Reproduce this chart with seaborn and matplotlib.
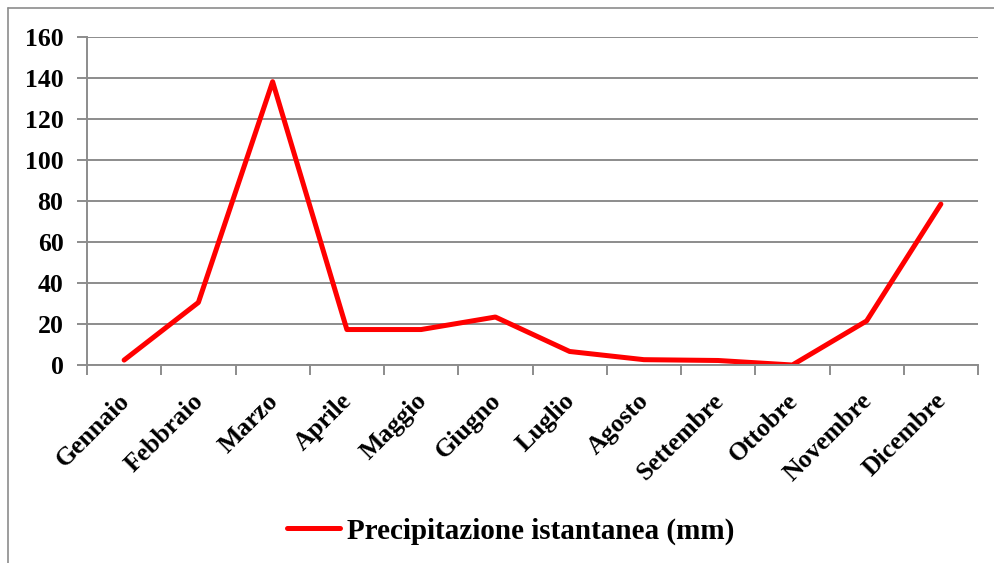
import matplotlib
matplotlib.use("Agg")
import matplotlib.pyplot as plt
from matplotlib.lines import Line2D
import seaborn as sns
import pandas as pd

months = ["Gennaio", "Febbraio", "Marzo", "Aprile", "Maggio", "Giugno",
          "Luglio", "Agosto", "Settembre", "Ottobre", "Novembre", "Dicembre"]
rain = [2.4, 30.5, 138.2, 17.3, 17.3, 23.4, 6.6, 2.6, 2.2, 0.0, 21.5, 78.5]
series_name = "Precipitazione istantanea (mm)"

df = pd.DataFrame({"mese": months, "mm": rain})

sns.set_style("white")
plt.rcParams["font.family"] = ["Liberation Serif", "DejaVu Serif"]
plt.rcParams["font.weight"] = "bold"
plt.rcParams["text.color"] = "black"
plt.rcParams["xtick.labelcolor"] = "black"
plt.rcParams["ytick.labelcolor"] = "black"

fig = plt.figure(figsize=(9.94, 5.63), dpi=100)
ax = fig.add_axes([87 / 994, 1 - 365 / 563, (978 - 87) / 994, (365 - 37) / 563])

sns.lineplot(data=df, x="mese", y="mm", ax=ax, color="#ff0000", linewidth=3.6,
             label=series_name, sort=False)

grid_c = "#8c8c8c"
ax.set_ylim(0, 160)
ax.set_yticks(range(0, 161, 20))
ax.set_xlim(-0.5, 11.5)
ax.grid(axis="y", color=grid_c, linewidth=1.4)
ax.set_axisbelow(True)
for s in ["top", "right"]:
    ax.spines[s].set_visible(False)
for s in ["left", "bottom"]:
    ax.spines[s].set_color(grid_c)
    ax.spines[s].set_linewidth(1.4)

ax.set_xticks(range(12))
ax.set_xticklabels(months, rotation=45, ha="right", va="center_baseline", rotation_mode="anchor",
                   fontsize=18.5, fontweight="bold", color="black")
ax.set_xticks([i - 0.5 for i in range(13)], minor=True)
ax.tick_params(axis="x", which="major", length=0, pad=22)
ax.tick_params(axis="x", which="minor", length=7, width=1.4, color=grid_c, bottom=True)
ax.tick_params(axis="y", length=7, width=1.4, color=grid_c, labelsize=18.5, pad=10, left=True)
for t in ax.get_yticklabels():
    t.set_fontweight("bold")
ax.set_xlabel("")
ax.set_ylabel("")

ax.get_legend().remove()
fig.legend(handles=[Line2D([], [], color="#ff0000", linewidth=3.6)], labels=[series_name],
           loc="center", bbox_to_anchor=(0.514, 1 - 531 / 563), frameon=False,
           handlelength=1.8, handletextpad=0.25, prop={"size": 21, "weight": "bold"})

# outer chart border (left and top edges visible)
fig.add_artist(Line2D([8 / 994, 8 / 994], [0, 1 - 8 / 563], color=grid_c, linewidth=1.2))
fig.add_artist(Line2D([8 / 994, 1], [1 - 8 / 563, 1 - 8 / 563], color=grid_c, linewidth=1.2))

fig.savefig("out.png", dpi=100)
